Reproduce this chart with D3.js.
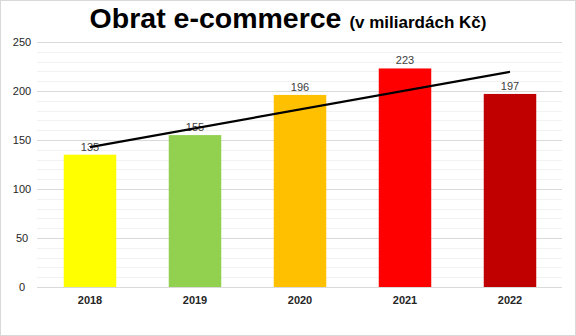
<!DOCTYPE html>
<html><head><meta charset="utf-8">
<script src="https://cdn.jsdelivr.net/npm/d3@7"></script>
<style>body{margin:0;background:#fff;}svg{display:block;font-family:Arial,"Liberation Sans",sans-serif;}</style>
</head><body><svg id="c" width="576" height="336"></svg>
<script>
const categories = ["2018","2019","2020","2021","2022"];
const values = [135,155,196,223,197];
const colors = ["#FFFF00","#92D050","#FFC000","#FF0000","#C00000"];
const yTicks = [0,50,100,150,200,250];

const svg = d3.select("#c");
const W=576,H=336;
svg.append("rect").attr("x",0.5).attr("y",0.5).attr("width",W-1).attr("height",H-1).attr("fill","#fff").attr("stroke","#d9d9d9");

const x = d3.scaleBand().domain(categories).range([37.5,562.5]).paddingInner(0.5).paddingOuter(0.25);
const y = d3.scaleLinear().domain([0,250]).range([287,42]);

// minor gridlines
const minor = d3.range(0,251,10).filter(v=>v%50!==0);
svg.append("g").selectAll("line").data(minor).join("line")
 .attr("x1",37).attr("x2",562).attr("y1",d=>Math.round(y(d))+0.5).attr("y2",d=>Math.round(y(d))+0.5)
 .attr("stroke","#f2f2f2").attr("stroke-width",1);
// major gridlines via axis
const ax = svg.append("g").attr("transform","translate(37,0)")
 .call(d3.axisLeft(y).tickValues(yTicks).tickSize(-525).tickFormat(d3.format("d")));
ax.select(".domain").remove();
ax.selectAll(".tick line").attr("stroke","#d9d9d9").attr("stroke-width",1.2);
ax.selectAll(".tick text").attr("x",-15).attr("text-anchor","middle").attr("font-size",11).attr("fill","#262626");

// bars
svg.append("g").selectAll("rect").data(values).join("rect")
 .attr("x",(d,i)=>x(categories[i])).attr("width",x.bandwidth())
 .attr("y",d=>y(d)).attr("height",d=>y(0)-y(d))
 .attr("fill",(d,i)=>colors[i]);

// data labels
svg.append("g").selectAll("text").data(values).join("text")
 .attr("x",(d,i)=>x(categories[i])+x.bandwidth()/2).attr("y",d=>y(d)-4)
 .attr("text-anchor","middle").attr("font-size",11).attr("fill","#404040")
 .text(d=>d);

// x axis labels
const xa = svg.append("g").attr("transform","translate(0,287)").call(d3.axisBottom(x).tickSize(0).tickPadding(9));
xa.select(".domain").remove();
xa.selectAll("text").attr("font-size",11).attr("font-weight","bold").attr("fill","#262626");

// linear trendline
const n=values.length, xs=d3.range(n);
const mx=d3.mean(xs), my=d3.mean(values);
const slope=d3.sum(xs,(xi,i)=>(xi-mx)*(values[i]-my))/d3.sum(xs,xi=>(xi-mx)*(xi-mx));
const icpt=my-slope*mx;
const cx=i=>x(categories[i])+x.bandwidth()/2;
svg.append("line").attr("x1",cx(0)).attr("y1",y(icpt)).attr("x2",cx(n-1)).attr("y2",y(icpt+slope*(n-1)))
 .attr("stroke","#000").attr("stroke-width",2.2);

// title
const t = svg.append("text").attr("x",288).attr("y",28).attr("text-anchor","middle").attr("fill","#000").attr("font-weight","bold");
t.append("tspan").attr("font-size",28.5).text("Obrat e-commerce ");
t.append("tspan").attr("font-size",17).text("(v miliardách Kč)");
</script></body></html>
